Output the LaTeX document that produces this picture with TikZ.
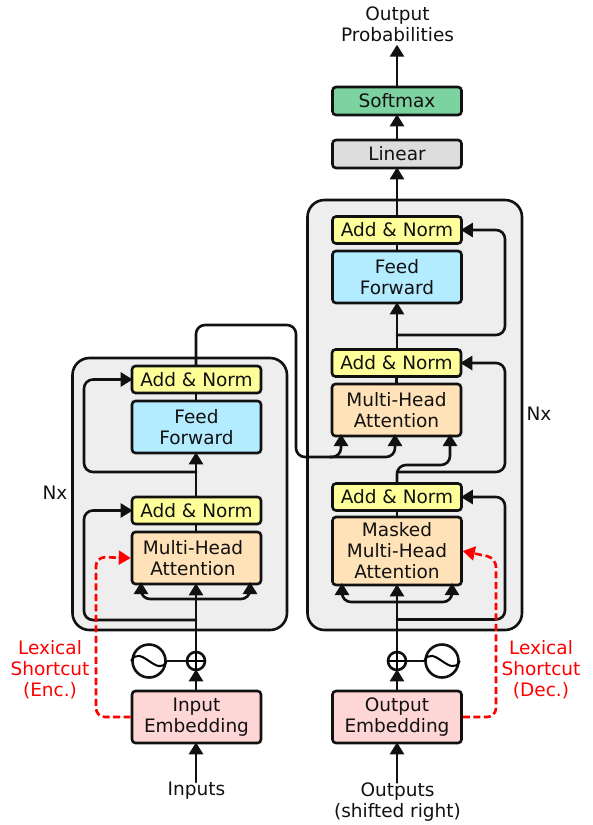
\documentclass[tikz,border=0pt]{standalone}
\usepackage{fontspec}
\setmainfont{DejaVu Sans}
\usetikzlibrary{arrows.meta}
\definecolor{normfill}{HTML}{FFFF99}
\definecolor{ffwdfill}{HTML}{B4ECFF}
\definecolor{attnfill}{HTML}{FFE2B8}
\definecolor{embfill}{HTML}{FFD6D6}
\definecolor{softfill}{HTML}{7DD3A0}
\definecolor{linfill}{HTML}{DDDDDD}
\definecolor{stackfill}{HTML}{EEEEEE}
\definecolor{inkcol}{HTML}{111111}
\tikzset{
	block/.style={draw=inkcol, line width=2.6pt, rounded corners=3.5pt, minimum width=129pt, inner sep=0pt, align=center, text=inkcol, font=\fontsize{18.5}{21}\selectfont},
	normbox/.style={block, fill=normfill, minimum height=27pt},
	ffwdbox/.style={block, fill=ffwdfill, minimum height=52pt},
	attnbox/.style={block, fill=attnfill, minimum height=52pt},
	maskbox/.style={block, fill=attnfill, minimum height=68pt},
	embbox/.style={block, fill=embfill, minimum height=52pt},
	stack/.style={draw=inkcol, line width=2.6pt, fill=stackfill, rounded corners=17pt},
	label/.style={inner sep=0pt, align=center, text=inkcol, font=\fontsize{18.5}{21}\selectfont},
	shortlabel/.style={label, text=red},
	wire/.style={draw=inkcol, line width=2.6pt, rounded corners=9pt, line cap=round},
	arr/.style={wire, shorten >=-2pt, -{Triangle[length=12pt,width=14pt]}},
	redarr/.style={draw=red, line width=2.6pt, dash pattern=on 7pt off 3.5pt, rounded corners=9pt, -{Triangle[length=12pt,width=14pt]}},
	wave/.style={draw=inkcol, line width=2.6pt, fill=white, circle, minimum size=33pt, inner sep=0pt},
	addsym/.style={draw=inkcol, line width=2.6pt, circle, minimum size=18pt, inner sep=0pt},
}
\begin{document}
\begin{tikzpicture}[x=1pt, y=-1pt]
	\useasboundingbox (0,0) rectangle (592,825);
	
	\draw[stack] (72.5,358) rectangle (287,630);
	\draw[stack] (307.5,200) rectangle (522,630);
	
	\node[label] (outprobs) at (397.5,24) {Output\\Probabilities};
	\node[block, fill=softfill, minimum height=28pt] (softmax) at (397,101) {Softmax};
	\node[block, fill=linfill, minimum height=28pt] (linear) at (397,154) {Linear};
	\node[normbox] (dnormC) at (397,230) {Add \& Norm};
	\node[ffwdbox] (dffwd) at (397,277) {Feed\\Forward};
	\node[normbox] (dnormB) at (396.5,363) {Add \& Norm};
	\node[attnbox] (dattn) at (396.5,410) {Multi-Head\\Attention};
	\node[normbox] (dnormA) at (397,497) {Add \& Norm};
	\node[maskbox] (dmask) at (397,551) {Masked\\Multi-Head\\Attention};
	\node[embbox] (dembed) at (397,717) {Output\\Embedding};
	\node[label] (doutputs) at (397.5,802) {Outputs\\(shifted right)};
	
	\node[normbox] (enormB) at (196.5,379.5) {Add \& Norm};
	\node[ffwdbox] (effwd) at (196.5,427) {Feed\\Forward};
	\node[normbox] (enormA) at (196.5,510.5) {Add \& Norm};
	\node[attnbox] (eattn) at (196.5,558) {Multi-Head\hspace*{7pt}\\Attention\hspace*{7pt}};
	\node[embbox] (eembed) at (196.5,717) {Input\\Embedding};
	\node[label] (einputs) at (196.5,791) {Inputs};
	
	\node[label] (enx) at (55,493) {Nx};
	\node[label] (dnx) at (539,414) {Nx};
	\node[shortlabel] (eshort) at (50,669.5) {Lexical\\Shortcut\\(Enc.)};
	\node[shortlabel] (dshort) at (541,669.5) {Lexical\\Shortcut\\(Dec.)};
	
	\node[addsym] (eplus) at (196,661) {};
	\draw[line width=2pt] (eplus.west) -- (eplus.east) (eplus.north) -- (eplus.south);
	\node[wave] (ewave) at (149,661) {};
	\draw[line width=2pt] (ewave.west) .. controls (140,643) and (158,679) .. (ewave.east);
	\node[addsym] (dplus) at (397,661) {};
	\draw[line width=2pt] (dplus.west) -- (dplus.east) (dplus.north) -- (dplus.south);
	\node[wave] (dwave) at (442,661) {};
	\draw[line width=2pt] (dwave.west) .. controls (433,643) and (451,679) .. (dwave.east);
	\draw[wire] (ewave) -- (eplus);
	\draw[wire] (dplus) -- (dwave);
	
	\draw[arr] (einputs.north -| eplus) -- (eembed.south -| eplus);
	\draw[arr] (eembed.north -| eplus) -- (eplus.south);
	\draw[arr] (eplus.north) -- (eattn.south -| eplus);
	\draw[wire] (eattn.north -| eplus) -- (enormA.south -| eplus);
	\draw[arr] (enormA.north -| eplus) -- (effwd.south -| eplus);
	\draw[wire] (effwd.north -| eplus) -- (enormB.south -| eplus);
	
	\coordinate (etapA) at (196,620);
	\coordinate (etapB) at (196,472);
	\coordinate (erail) at (84,540);
	\draw[arr] (etapA) -- (etapA -| erail) -- (enormA.west -| erail) -- (enormA.west);
	\draw[arr] (etapB) -- (etapB -| erail) -- (enormB.west -| erail) -- (enormB.west);
	\coordinate (ebranch) at (196,599);
	\draw[arr] (ebranch) -- (141,599) -- (141,584);
	\draw[arr] (ebranch) -- (250,599) -- (250,584);
	
	\draw[arr] (doutputs.north -| dplus) -- (dembed.south);
	\draw[arr] (dembed.north) -- (dplus.south);
	\draw[arr] (dplus.north) -- (dmask.south);
	\draw[wire] (dmask.north) -- (dnormA.south);
	\draw[wire] (dattn.north) -- (dnormB.south);
	\draw[arr] (dnormB.north -| dplus) -- (dffwd.south);
	\draw[wire] (dffwd.north) -- (dnormC.south);
	\draw[arr] (dnormC.north) -- (linear.south);
	\draw[arr] (linear.north) -- (softmax.south);
	\draw[arr, shorten >=3pt] (softmax.north) -- (outprobs.south -| softmax);
	
	\coordinate (dtapA) at (397,619.5);
	\coordinate (dtapB) at (397,472);
	\coordinate (dtapC) at (397,335);
	\coordinate (drail) at (505,400);
	\draw[arr] (dtapA) -- (dtapA -| drail) -- (dnormA.east -| drail) -- (dnormA.east);
	\draw[arr] (dtapB) -- (dtapB -| drail) -- (dnormB.east -| drail) -- (dnormB.east);
	\draw[arr] (dtapC) -- (dtapC -| drail) -- (dnormC.east -| drail) -- (dnormC.east);
	\coordinate (dbranch) at (397,602);
	\draw[arr] (dbranch) -- (342,602) -- (342,585);
	\draw[arr] (dbranch) -- (452,602) -- (452,585);
	
	\draw[arr] (dnormA.north) -- (397,465) -- (450,465) -- (450,436);
	\draw[arr] (enormB.north -| eplus) -- (196,325) -- (296,325) -- (296,457) -- (341,457) -- (341,436);
	\draw[arr] (330,457) -- (395,457) -- (395,436);
	
	\draw[redarr] (eembed.west) -- (96,717) -- (96,557) -- (eattn.west);
	\draw[redarr] (dembed.east) -- (496,717) -- (496,558) -- (dmask.east);
\end{tikzpicture}
\end{document}
